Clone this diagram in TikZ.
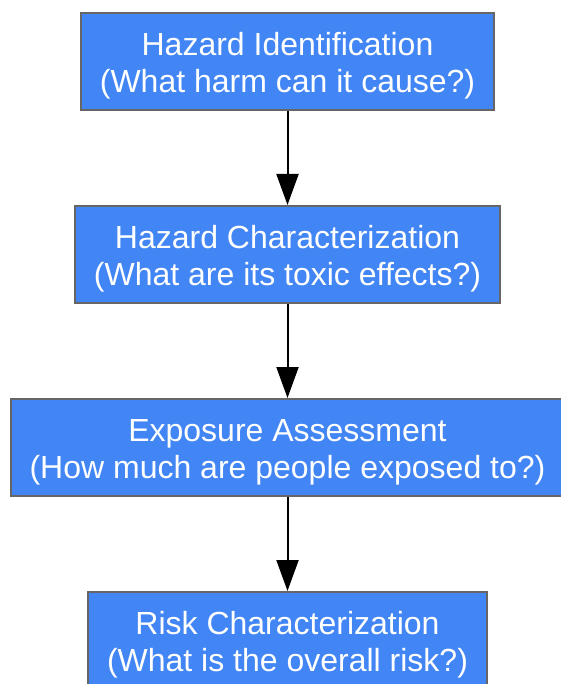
\documentclass[tikz,border=0pt]{standalone}
\usepackage{fontspec}
\setmainfont{Liberation Sans}
\usepackage{tikz}
\usetikzlibrary{arrows.meta,positioning}
\definecolor{stepblue}{HTML}{4285F4}
\definecolor{stepgray}{HTML}{666666}
\newcommand\stagegap{\rule{0pt}{31pt}}

\begin{document}
\begin{tikzpicture}[x=1pt,y=1pt,
    stage/.style={rectangle, draw=stepgray, line width=2pt, fill=stepblue,
    text=white, align=center, inner xsep=19pt, minimum height=97pt,
    font=\fontsize{32}{37}\selectfont},
    >={Triangle[length=31pt,width=22pt]}, node distance=94pt]
  \useasboundingbox (0,0) rectangle (561,-684);

  \node[stage] (ident) at (287.5,-61.5) {\stagegap Hazard Identification\\(What harm can it cause?)};
  \node[stage,below=of ident] (charact) {\stagegap Hazard Characterization\\(What are its toxic effects?)};
  \node[stage,below=of charact] (expo) {\stagegap Exposure Assessment\\(How much are people exposed to?)};
  \node[stage,below=of expo] (risk) {\stagegap Risk Characterization\\(What is the overall risk?)};

  \draw[->,line width=2pt] (ident) -- (charact);
  \draw[->,line width=2pt] (charact) -- (expo);
  \draw[->,line width=2pt] (expo) -- (risk);
\end{tikzpicture}
\end{document}
